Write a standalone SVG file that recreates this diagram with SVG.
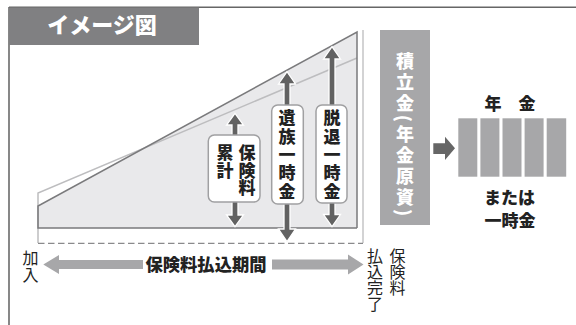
<svg xmlns="http://www.w3.org/2000/svg" width="576" height="325" viewBox="0 0 576 325">
<style>
.jp{font-family:"Noto Sans CJK JP","Noto Sans CJK SC",sans-serif;}
.b{font-weight:900;}
.v{writing-mode:vertical-rl;}
.dark{fill:#222;}
.white{fill:#fff;}
.lbl{fill:#fff;stroke:#a0a0a2;stroke-width:1.5;}
.darr{fill:#626262;stroke:#fff;stroke-width:1.3;stroke-linejoin:miter;}
.gray{fill:#a7a7a9;}
</style>
<rect width="576" height="325" fill="#fff"/>
<g id="frame">
<line x1="9" y1="7.3" x2="576" y2="7.3" stroke="#666" stroke-width="1.4"/>
<line x1="9" y1="7" x2="9" y2="325" stroke="#555" stroke-width="1.4"/>
</g>
<g id="title">
<rect x="9" y="7.5" width="190" height="37.5" fill="#808082"/>
<text x="102" y="33" class="jp b white" font-size="22" text-anchor="middle">イメージ図</text>
</g>
<g id="chart">
<polygon points="38,206 357,32 357,228 38,228" fill="#e9e9eb"/>
<polyline points="38,243 38,193 357,58" fill="none" stroke="#bdbdbf" stroke-width="1.5"/>
<line x1="363" y1="30" x2="363" y2="243" stroke="#c4c4c6" stroke-width="1.5"/>
<polyline points="357,228 38,228 38,206 357,32 357,228" fill="none" stroke="#7a7a7c" stroke-width="1.5"/>
<line x1="38" y1="243.3" x2="363" y2="243.3" stroke="#8a8a8c" stroke-width="1.3" stroke-dasharray="6.5 3.5"/>
</g>
<g id="connectors">
<polygon class="darr" points="235,113.3 243.5,125 238,125 238,215 243.5,215 235,226.7 226.5,215 232,215 232,125 226.5,125"/>
<polygon class="darr" points="287,71.7 295.5,84 290,84 290,229 295.5,229 287,241.7 278.5,229 284,229 284,84 278.5,84"/>
<polygon class="darr" points="332,46.7 340.5,59 335,59 335,214.5 340.5,214.5 332,226.7 323.5,214.5 329,214.5 329,59 323.5,59"/>
<polygon fill="#666" points="433.3,143.3 445,143.3 445,136.7 455,148.3 445,160 445,154 433.3,154"/>
<polygon class="gray" points="43.3,264.5 59,255 59,260 143,260 143,269 59,269 59,274"/>
<polygon class="gray" points="272,259.5 348,259.5 348,254.5 363.5,264.5 348,274.5 348,269.5 272,269.5"/>
</g>
<g id="node-premium-total">
<rect class="lbl" x="208.3" y="135" width="51.7" height="67" rx="6"/>
<text class="jp b v dark" x="247" y="144.5" font-size="17" letter-spacing="0.5">保険料</text>
<text class="jp b v dark" x="225" y="144.5" font-size="17" letter-spacing="0.5">累計</text>
</g>
<g id="node-survivor">
<rect class="lbl" x="271.7" y="105" width="31.6" height="99" rx="6"/>
<text class="jp b v dark" x="287" y="109.5" font-size="17" letter-spacing="1.3">遺族一時金</text>
</g>
<g id="node-withdrawal">
<rect class="lbl" x="316" y="105" width="31" height="98" rx="6"/>
<text class="jp b v dark" x="332" y="109.5" font-size="17" letter-spacing="1.3">脱退一時金</text>
</g>
<g id="node-fund">
<rect class="gray" x="380" y="30" width="50" height="195"/>
<text class="jp b v white" x="405" y="51.7" font-size="18" letter-spacing="3">積立金(年金原資)</text>
</g>
<g id="node-pension">
<text class="jp b dark" x="510" y="110" font-size="17" text-anchor="middle">年　金</text>
<rect class="gray" x="458.3" y="118.3" width="19" height="58.4"/>
<rect class="gray" x="480.4" y="118.3" width="19" height="58.4"/>
<rect class="gray" x="502.5" y="118.3" width="19" height="58.4"/>
<rect class="gray" x="524.6" y="118.3" width="19" height="58.4"/>
<rect class="gray" x="546.7" y="118.3" width="19.5" height="58.4"/>
<text class="jp b dark" x="509.5" y="204" font-size="17" text-anchor="middle">または</text>
<text class="jp b dark" x="510" y="227" font-size="17" text-anchor="middle">一時金</text>
</g>
<g id="period">
<text class="jp b dark" x="206" y="270.5" font-size="17.3" text-anchor="middle">保険料払込期間</text>
<text class="jp v dark" x="30.5" y="250" font-size="16" letter-spacing="0.5">加入</text>
<text class="jp v dark" x="375" y="248" font-size="16">払込完了</text>
<text class="jp v dark" x="397.5" y="248" font-size="16">保険料</text>
</g>
</svg>
